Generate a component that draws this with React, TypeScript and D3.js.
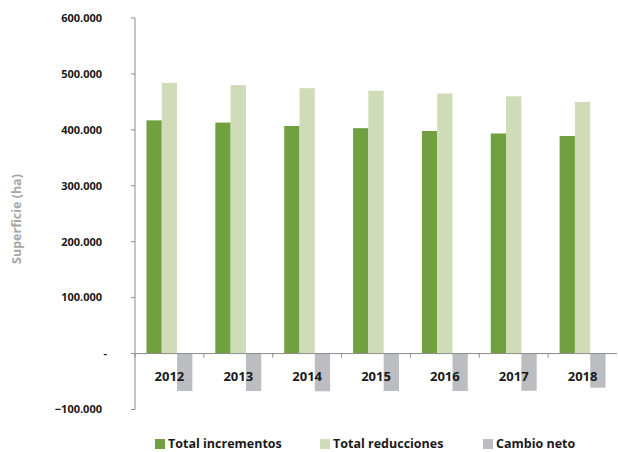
import React from 'react';
import * as d3 from 'd3';

const years = ['2012', '2013', '2014', '2015', '2016', '2017', '2018'];
const incrementos = [417000, 413000, 407000, 403000, 398000, 393500, 389000];
const reducciones = [484000, 480000, 474500, 470000, 465000, 460000, 450000];
const cambioNeto = [-67000, -67000, -67500, -67000, -67000, -66500, -61000];

const seriesNames = ['Total incrementos', 'Total reducciones', 'Cambio neto'];
const seriesColors = ['#71a040', '#d0dcb8', '#bcbdc1'];
const yTicks = [-100000, 0, 100000, 200000, 300000, 400000, 500000, 600000];

const fmt = (v: number) => {
  if (v === 0) return '-';
  const s = d3.format(',')(v).replace(/,/g, '.');
  return s.includes('.') ? s : s + '.000';
};

const App: React.FC = () => {
  const width = 618;
  const height = 452;
  const left = 135;
  const right = 617;

  const x = d3.scaleBand<string>().domain(years).range([left, right]).padding(0);
  const y = d3.scaleLinear().domain([-100000, 600000]).range([409.5, 18]);
  const inner = d3
    .scaleBand<number>()
    .domain([0, 1, 2])
    .range([0, x.bandwidth()])
    .paddingOuter(0.75)
    .paddingInner(0);

  const series = [incrementos, reducciones, cambioNeto];
  const font = '"Open Sans", sans-serif';
  const legendX = [155, 320, 483];

  return (
    <svg width={width} height={height} style={{ position: 'absolute', left: 0, top: 0 }}>
      <rect width={width} height={height} fill="#fff" />
      {/* bars */}
      {series.map((vals, si) =>
        vals.map((v, i) => {
          const bx = x(years[i])! + inner(si)!;
          const y0 = y(0);
          const yv = y(v);
          return (
            <rect
              key={`${si}-${i}`}
              x={bx}
              y={Math.min(y0, yv)}
              width={inner.bandwidth()}
              height={Math.abs(y0 - yv)}
              fill={seriesColors[si]}
            />
          );
        })
      )}
      {/* y axis */}
      <line x1={left} x2={left} y1={y(600000)} y2={y(-100000)} stroke="#8c8c8c" strokeWidth={1} />
      {yTicks.map((t) => (
        <g key={t}>
          <line x1={left - 4} x2={left} y1={y(t)} y2={y(t)} stroke="#8c8c8c" />
          <text
            x={t === 0 ? 107 : 102}
            y={y(t)}
            dy="0.35em"
            textAnchor="end"
            fontFamily={font}
            fontWeight={700}
            fontSize={11}
            fill="#1a1a1a"
          >
            {fmt(t)}
          </text>
        </g>
      ))}
      {/* zero line + category ticks */}
      <line x1={left} x2={right} y1={y(0)} y2={y(0)} stroke="#8c8c8c" />
      {years.map((yr) => (
        <line
          key={yr}
          x1={x(yr)!}
          x2={x(yr)!}
          y1={y(0)}
          y2={y(0) + 4}
          stroke="#8c8c8c"
        />
      ))}
      {years.map((yr) => (
        <text
          key={yr}
          x={x(yr)! + x.bandwidth() / 2}
          y={y(0) + 27}
          textAnchor="middle"
          fontFamily={font}
          fontWeight={700}
          fontSize={13}
          fill="#1a1a1a"
        >
          {yr}
        </text>
      ))}
      {/* y title */}
      <text
        transform={`translate(21, 219) rotate(-90)`}
        textAnchor="middle"
        fontFamily={font}
        fontWeight={700}
        fontSize={12.5}
        fill="#a6a6a6"
      >
        Superficie (ha)
      </text>
      {/* legend */}
      {seriesNames.map((n, i) => (
        <g key={n}>
          <rect x={legendX[i]} y={439} width={10} height={10} fill={seriesColors[i]} />
          <text
            x={legendX[i] + 13}
            y={444}
            dy="0.35em"
            fontFamily={font}
            fontWeight={700}
            fontSize={12.5}
            fill="#1a1a1a"
          >
            {n}
          </text>
        </g>
      ))}
    </svg>
  );
};

export default App;
